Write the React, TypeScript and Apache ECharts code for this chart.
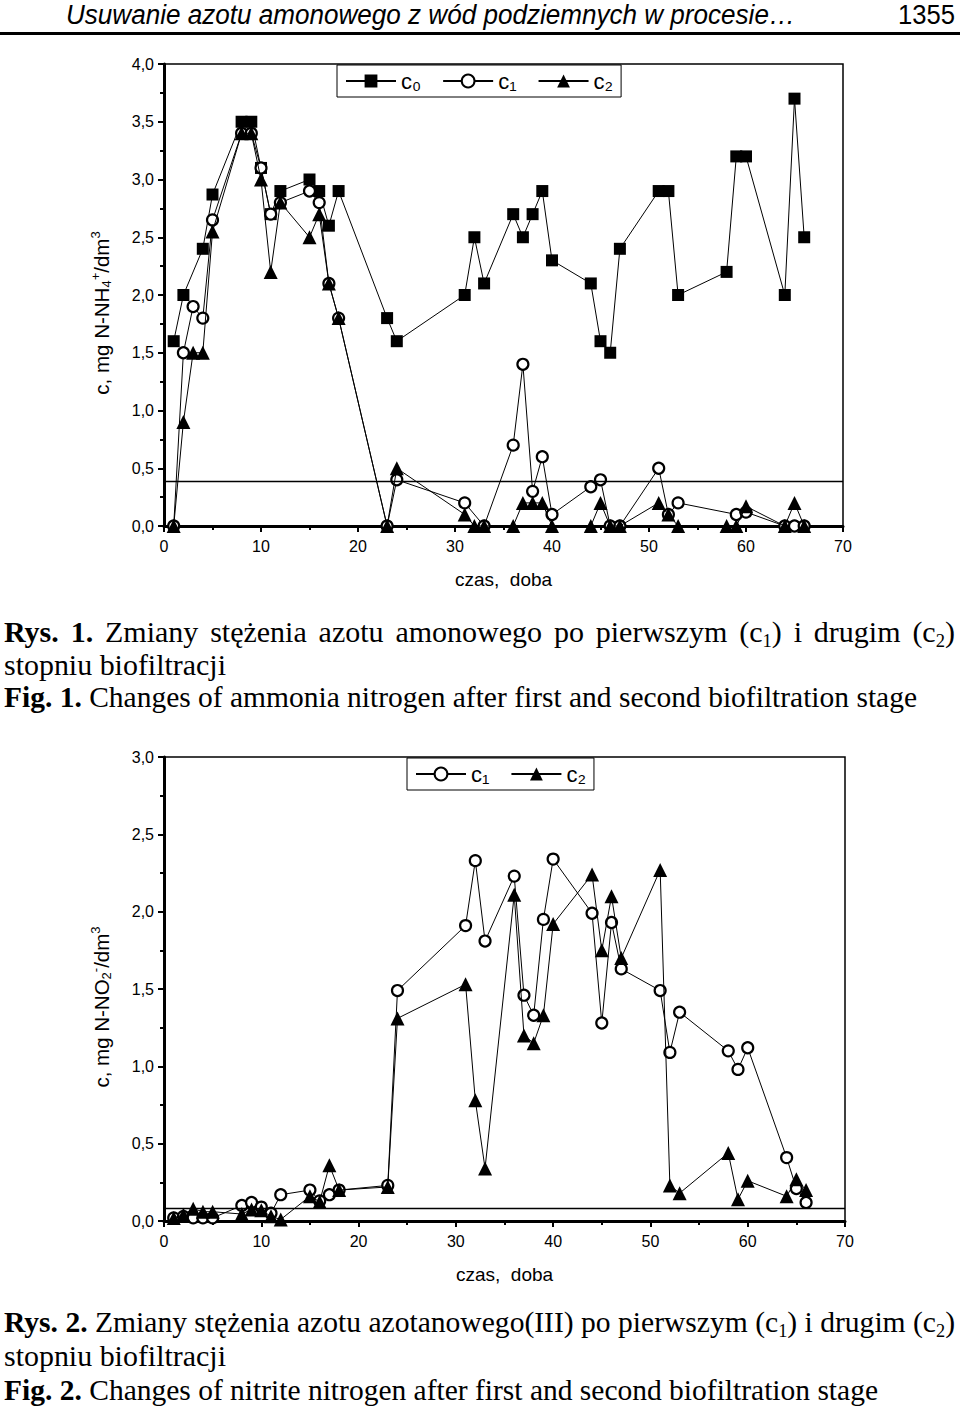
import React, { useEffect, useLayoutEffect, useRef } from "react";
import * as echarts from "echarts";

// ---------- Data: Fig. 1 (ammonium nitrogen) ----------
const c0Days = [1, 2, 4, 5, 8, 9, 10, 11, 12, 15, 16, 17, 18, 23, 24, 31, 32, 33, 36, 37, 38, 39, 40, 44, 45, 46, 47, 51, 52, 53, 58, 59, 60, 64, 65, 66];
const c0Vals = [1.6, 2.0, 2.4, 2.87, 3.5, 3.5, 3.1, 2.7, 2.9, 3.0, 2.9, 2.6, 2.9, 1.8, 1.6, 2.0, 2.5, 2.1, 2.7, 2.5, 2.7, 2.9, 2.3, 2.1, 1.6, 1.5, 2.4, 2.9, 2.9, 2.0, 2.2, 3.2, 3.2, 2.0, 3.7, 2.5];

const c1Days = [1, 2, 3, 4, 5, 8, 9, 10, 11, 12, 15, 16, 17, 18, 23, 24, 31, 33, 36, 37, 38, 39, 40, 44, 45, 46, 47, 51, 52, 53, 59, 60, 64, 65, 66];
const c1Vals = [0, 1.5, 1.9, 1.8, 2.65, 3.4, 3.4, 3.1, 2.7, 2.8, 2.9, 2.8, 2.1, 1.8, 0, 0.4, 0.2, 0, 0.7, 1.4, 0.3, 0.6, 0.1, 0.34, 0.4, 0, 0, 0.5, 0.1, 0.2, 0.1, 0.12, 0, 0, 0];

const c2Days = [1, 2, 3, 4, 5, 8, 9, 10, 11, 12, 15, 16, 17, 18, 23, 24, 31, 32, 33, 36, 37, 38, 39, 40, 44, 45, 46, 47, 51, 52, 53, 58, 59, 60, 64, 65, 66];
const c2Vals = [0, 0.9, 1.5, 1.5, 2.55, 3.4, 3.4, 3.0, 2.2, 2.8, 2.5, 2.7, 2.1, 1.8, 0, 0.5, 0.1, 0, 0, 0, 0.2, 0.2, 0.2, 0, 0, 0.2, 0, 0, 0.2, 0.1, 0, 0, 0, 0.17, 0, 0.2, 0];

const ammoniumLimit = 0.39;

// ---------- Data: Fig. 2 (nitrite nitrogen) ----------
const nDays = [1, 2, 3, 4, 5, 8, 9, 10, 11, 12, 15, 16, 17, 18, 23, 24, 31, 32, 33, 36, 37, 38, 39, 40, 44, 45, 46, 47, 51, 52, 53, 58, 59, 60, 64, 65, 66];
const n1Vals = [0.02, 0.03, 0.02, 0.02, 0.02, 0.1, 0.12, 0.09, 0.05, 0.17, 0.2, 0.13, 0.17, 0.2, 0.23, 1.49, 1.91, 2.33, 1.81, 2.23, 1.46, 1.33, 1.95, 2.34, 1.99, 1.28, 1.93, 1.63, 1.49, 1.09, 1.35, 1.1, 0.98, 1.12, 0.41, 0.21, 0.12];
const n2Vals = [0.02, 0.04, 0.08, 0.06, 0.06, 0.045, 0.075, 0.07, 0.03, 0.01, 0.16, 0.125, 0.36, 0.2, 0.22, 1.31, 1.53, 0.78, 0.34, 2.11, 1.2, 1.15, 1.33, 1.92, 2.24, 1.75, 2.1, 1.7, 2.27, 0.23, 0.18, 0.44, 0.14, 0.26, 0.16, 0.27, 0.2];

const nitriteLimit = 0.08;

const xTicks = [0, 10, 20, 30, 40, 50, 60, 70];
const seriesNames = ["c₀", "c₁", "c₂"];

const SANS = "'Liberation Sans', Arial, sans-serif";
const SERIF = "'Liberation Serif', 'Times New Roman', serif";

const zip = (d: number[], v: number[]) => d.map((x, i) => [x, v[i]]);

function FitLine(props: { left: number; top: number; width: number; justify?: boolean; style?: React.CSSProperties; children: React.ReactNode }) {
  const ref = useRef<HTMLSpanElement>(null);
  useLayoutEffect(() => {
    const fit = () => {
      const el = ref.current;
      if (!el) return;
      el.style.transform = "none";
      el.style.wordSpacing = "normal";
      const w = el.getBoundingClientRect().width;
      if (w <= 0) return;
      if (props.justify && w < props.width) {
        const spaces = (el.textContent || "").split(" ").length - 1;
        if (spaces > 0) el.style.wordSpacing = `${(props.width - w) / spaces}px`;
      } else {
        el.style.transform = `scaleX(${props.width / w})`;
      }
    };
    fit();
    (document as any).fonts?.ready?.then(fit);
  }, [props.width]);
  return (
    <div style={{ position: "absolute", left: props.left, top: props.top, whiteSpace: "nowrap", ...props.style }}>
      <span ref={ref} style={{ display: "inline-block", transformOrigin: "left center" }}>
        {props.children}
      </span>
    </div>
  );
}

const subStyle: React.CSSProperties = { fontSize: "0.62em", verticalAlign: "-0.25em", lineHeight: 0 };

export default function App() {
  const chartRef = useRef<HTMLDivElement>(null);

  useLayoutEffect(() => {
    document.body.style.margin = "0";
  }, []);

  useEffect(() => {
    if (!chartRef.current) return;
    const chart = echarts.init(chartRef.current, undefined, { renderer: "svg" });

    const labelFmt = (v: number) => v.toFixed(1).replace(".", ",");
    const nameRich = {
      m: { fontSize: 20.5, fontFamily: SANS, color: "#000", lineHeight: 24 },
      s: { fontSize: 13, fontFamily: SANS, color: "#000", lineHeight: 13, verticalAlign: "bottom" as const },
      p: { fontSize: 13, fontFamily: SANS, color: "#000", lineHeight: 13, verticalAlign: "top" as const },
    };

    const xAxisBase = (gridIndex: number) => ({
      type: "value" as const,
      gridIndex,
      min: 0,
      max: 70,
      interval: 10,
      name: "czas,  doba",
      nameLocation: "middle" as const,
      nameGap: 44,
      nameTextStyle: { fontSize: 19, fontFamily: SANS, color: "#000" },
      axisLine: { show: true, onZero: false, lineStyle: { color: "#000", width: 3 } },
      axisTick: { show: true, length: 6, lineStyle: { color: "#000", width: 2 } },
      minorTick: { show: true, splitNumber: 2, length: 4, lineStyle: { color: "#000", width: 2 } },
      axisLabel: {
        fontSize: 16,
        fontFamily: SANS,
        color: "#000",
        margin: 12,
        formatter: (v: number) => (xTicks.includes(v) ? String(v) : ""),
      },
      splitLine: { show: false },
    });

    const yAxisBase = (gridIndex: number, max: number, name: string) => ({
      type: "value" as const,
      gridIndex,
      min: 0,
      max,
      interval: 0.5,
      name,
      nameLocation: "middle" as const,
      nameRotate: 90,
      nameGap: 51,
      nameTextStyle: { rich: nameRich, padding: [0, 36, 0, 0] },
      axisLine: { show: true, onZero: false, lineStyle: { color: "#000", width: 3 } },
      axisTick: { show: true, length: 6, lineStyle: { color: "#000", width: 2 } },
      minorTick: { show: true, splitNumber: 2, length: 4, lineStyle: { color: "#000", width: 2 } },
      axisLabel: { fontSize: 16, fontFamily: SANS, color: "#000", margin: 10, formatter: labelFmt },
      splitLine: { show: false },
    });

    const lineStyle = { color: "#000", width: 1 };
    const sq = { symbol: "rect", symbolSize: 12, itemStyle: { color: "#000" } };
    const ci = { symbol: "circle", symbolSize: 11, itemStyle: { color: "#fff", borderColor: "#000", borderWidth: 2.2 } };
    const tr = { symbol: "triangle", symbolSize: 14, itemStyle: { color: "#000" } };

    const legendBase = {
      orient: "horizontal" as const,
      itemWidth: 50,
      itemHeight: 16,
      itemGap: 21,
      padding: [5, 8, 5, 8],
      borderColor: "#000",
      borderWidth: 1,
      backgroundColor: "#fff",
      textStyle: { fontSize: 22, fontFamily: SANS, color: "#000" },
    };

    const [n0, n1, n2] = seriesNames;

    chart.setOption({
      animation: false,
      grid: [
        { left: 164, top: 64, width: 679, height: 462, show: true, borderColor: "#000", borderWidth: 1.5, backgroundColor: "transparent" },
        { left: 164, top: 757, width: 681, height: 464, show: true, borderColor: "#000", borderWidth: 1.5, backgroundColor: "transparent" },
      ],
      legend: [
        { ...legendBase, left: 337, top: 65, data: [n0, n1, n2] },
        { ...legendBase, left: 407, top: 758, data: [n1, n2] },
      ],
      xAxis: [xAxisBase(0), xAxisBase(1)],
      yAxis: [
        yAxisBase(0, 4, "{m|c, mg N-NH}{s|4}{p|+}{m|/dm}{p|3}"),
        yAxisBase(1, 3, "{m|c, mg N-NO}{s|2}{p|-}{m|/dm}{p|3}"),
      ],
      series: [
        {
          name: n0, type: "line", xAxisIndex: 0, yAxisIndex: 0, z: 2, ...sq, lineStyle,
          data: zip(c0Days, c0Vals),
          markLine: {
            silent: true, symbol: ["none", "none"], label: { show: false },
            lineStyle: { color: "#000", width: 1.3, type: "solid" },
            data: [{ yAxis: ammoniumLimit }],
          },
        },
        { name: n1, type: "line", xAxisIndex: 0, yAxisIndex: 0, z: 3, ...ci, lineStyle, data: zip(c1Days, c1Vals) },
        { name: n2, type: "line", xAxisIndex: 0, yAxisIndex: 0, z: 4, ...tr, lineStyle, data: zip(c2Days, c2Vals) },
        {
          name: n1, type: "line", xAxisIndex: 1, yAxisIndex: 1, z: 3, ...ci, lineStyle, data: zip(nDays, n1Vals),
          markLine: {
            silent: true, symbol: ["none", "none"], label: { show: false },
            lineStyle: { color: "#000", width: 1.3, type: "solid" },
            data: [{ yAxis: nitriteLimit }],
          },
        },
        { name: n2, type: "line", xAxisIndex: 1, yAxisIndex: 1, z: 4, ...tr, lineStyle, data: zip(nDays, n2Vals) },
      ],
    });

    return () => chart.dispose();
  }, []);

  const cap: React.CSSProperties = { fontFamily: SERIF, fontSize: 30, lineHeight: "33px", color: "#000" };

  return (
    <div style={{ position: "relative", width: 960, height: 1409, overflow: "hidden", background: "#fff" }}>
      <div ref={chartRef} style={{ position: "absolute", left: 0, top: 0, width: 960, height: 1409 }} />

      {/* running header */}
      <FitLine left={66} top={1} width={729} style={{ fontFamily: SANS, fontStyle: "italic", fontSize: 27, lineHeight: "28px" }}>
        Usuwanie azotu amonowego z wód podziemnych w procesie…
      </FitLine>
      <FitLine left={898} top={1} width={57} style={{ fontFamily: SANS, fontSize: 27, lineHeight: "28px" }}>
        1355
      </FitLine>
      <div style={{ position: "absolute", left: 0, top: 32, width: 960, height: 3, background: "#000" }} />

      {/* caption 1 */}
      <FitLine left={4} top={615} width={951} justify style={cap}>
        <b>Rys. 1.</b> Zmiany stężenia azotu amonowego po pierwszym (c<span style={subStyle}>1</span>) i drugim (c<span style={subStyle}>2</span>)
      </FitLine>
      <FitLine left={4} top={648} width={222} style={cap}>stopniu biofiltracji</FitLine>
      <FitLine left={4} top={680} width={913} style={cap}>
        <b>Fig. 1.</b> Changes of ammonia nitrogen after first and second biofiltration stage
      </FitLine>

      {/* caption 2 */}
      <FitLine left={4} top={1305} width={951} justify style={cap}>
        <b>Rys. 2.</b> Zmiany stężenia azotu azotanowego(III) po pierwszym (c<span style={subStyle}>1</span>) i drugim (c<span style={subStyle}>2</span>)
      </FitLine>
      <FitLine left={4} top={1339} width={222} style={cap}>stopniu biofiltracji</FitLine>
      <FitLine left={4} top={1373} width={874} style={cap}>
        <b>Fig. 2.</b> Changes of nitrite nitrogen after first and second biofiltration stage
      </FitLine>
    </div>
  );
}
